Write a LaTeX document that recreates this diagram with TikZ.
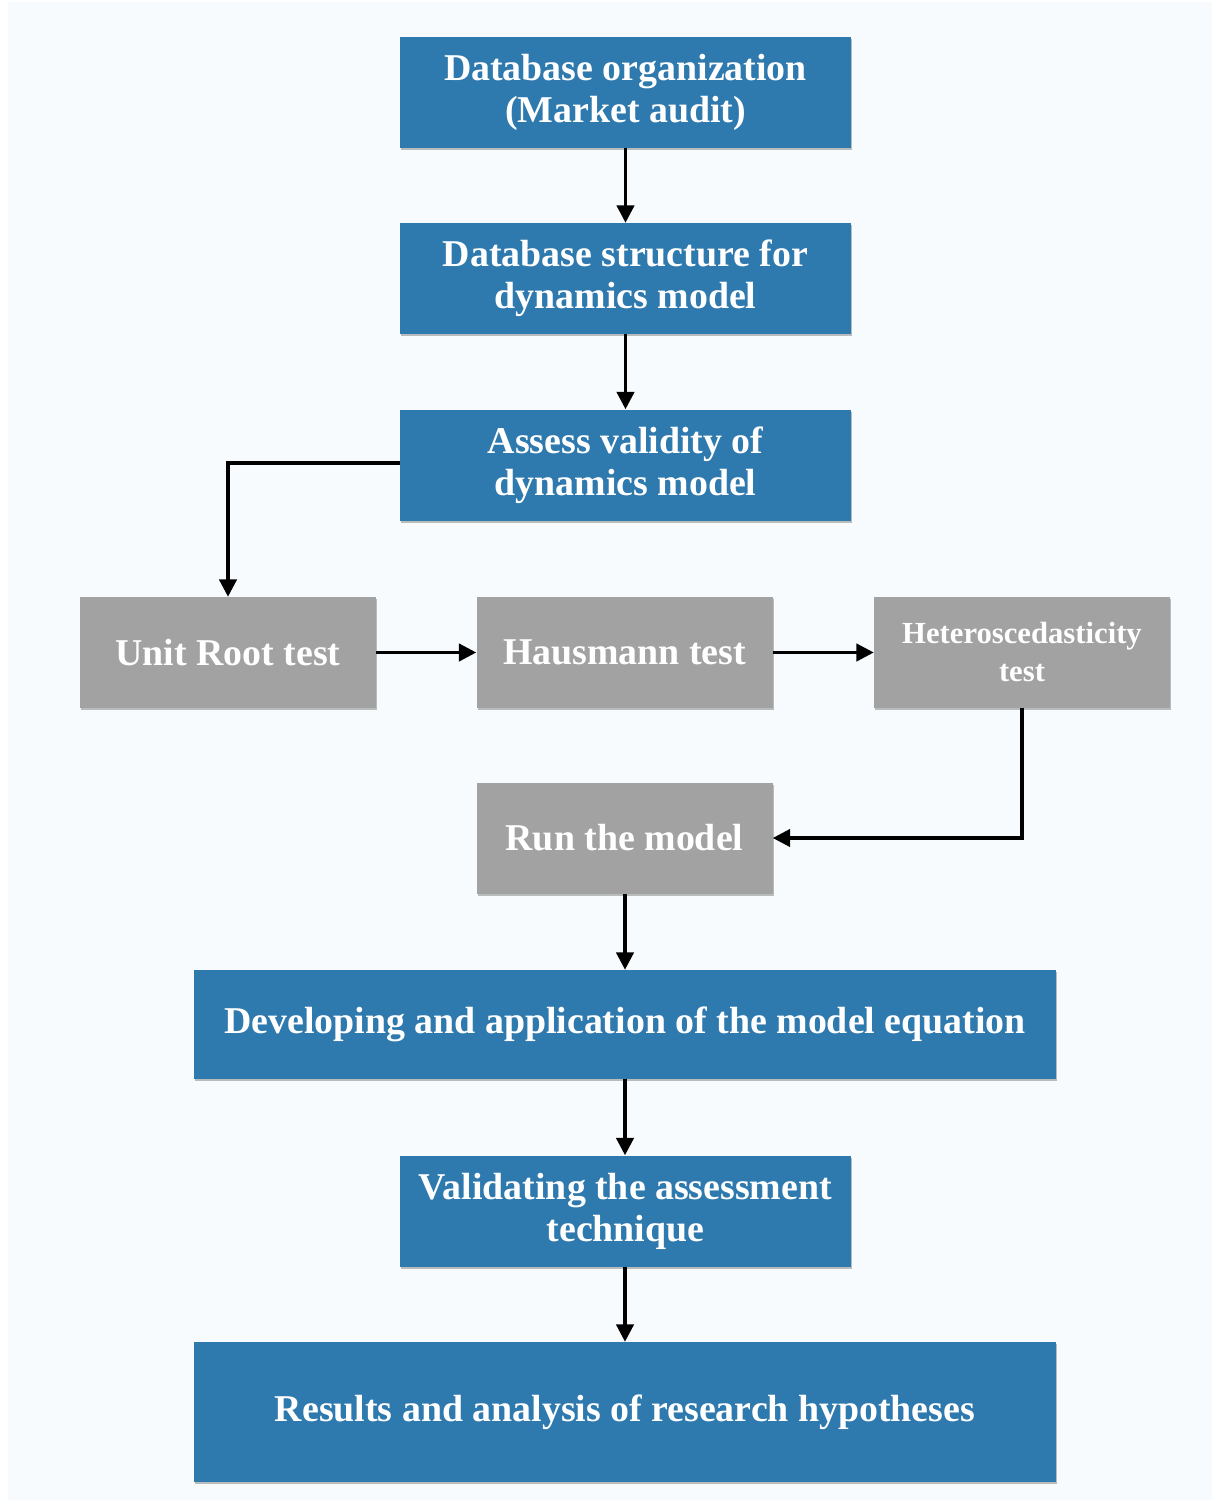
\documentclass[tikz,border=0pt]{standalone}
\usepackage{fontspec}
\setmainfont{Liberation Serif}
\usetikzlibrary{arrows.meta,shadows}
\definecolor{bluebox}{HTML}{2E79AE}
\definecolor{graybox}{HTML}{A2A2A2}
\definecolor{pagebg}{HTML}{F7FBFD}
\tikzset{
  boxbase/.style={rectangle, inner sep=0pt, align=center, text=white,
    font=\fontsize{28.4}{31.5}\selectfont\bfseries,
    drop shadow={shadow xshift=0.8pt, shadow yshift=-1.8pt, opacity=0.25, fill=black}},
  bluenode/.style={boxbase, fill=bluebox, minimum width=338.25pt, minimum height=83.25pt},
  widenode/.style={boxbase, fill=bluebox, minimum width=646.5pt, minimum height=81.75pt},
  graynode/.style={boxbase, fill=graybox, minimum width=222pt, minimum height=83.25pt},
  conn/.style={line width=2.4pt, -{Triangle[length=13pt,width=13pt]}}
}
\begin{document}
\begin{tikzpicture}[x=0.75pt,y=-0.75pt]
\useasboundingbox (0,0) rectangle (1217,1502);
\fill[white] (0,0) rectangle (1217,1502);
\fill[pagebg] (8,2) rectangle (1212,1500);

\node[bluenode] (n1) at (625.5,92.5) {Database organization\\(Market audit)};
\node[bluenode] (n2) at (625.5,278.5) {Database structure for\\dynamics model};
\node[bluenode] (n3) at (625.5,465) {Assess validity of\\dynamics model};
\node[graynode] (u) at (228,652.5) {Unit Root test};
\node[graynode] (h) at (624.5,652.5) {Hausmann test};
\node[graynode, font=\fontsize{23}{28.5}\selectfont\bfseries] (het) at (1022,652.5) {Heteroscedasticity\\test};
\node[graynode] (run) at (624.5,838) {Run the model};
\node[widenode] (dev) at (625,1024.5) {Developing and application of the model equation};
\node[bluenode] (val) at (625.5,1211) {Validating the assessment\\technique};
\node[widenode, minimum height=105pt] (res) at (625,1412) {Results and analysis of research hypotheses};

\draw[conn] (n1) -- (n2);
\draw[conn] (n2) -- (n3);
\draw[conn] (n3.west |- 0,463) -| (u.north);
\draw[conn] (u) -- (h);
\draw[conn] (h) -- (het);
\draw[conn] (het.south) |- (run.east);
\draw[conn] (run.south -| dev.north) -- (dev.north);
\draw[conn] (dev.south) -- (val.north -| dev.south);
\draw[conn] (val.south -| res.north) -- (res.north);
\end{tikzpicture}
\end{document}
